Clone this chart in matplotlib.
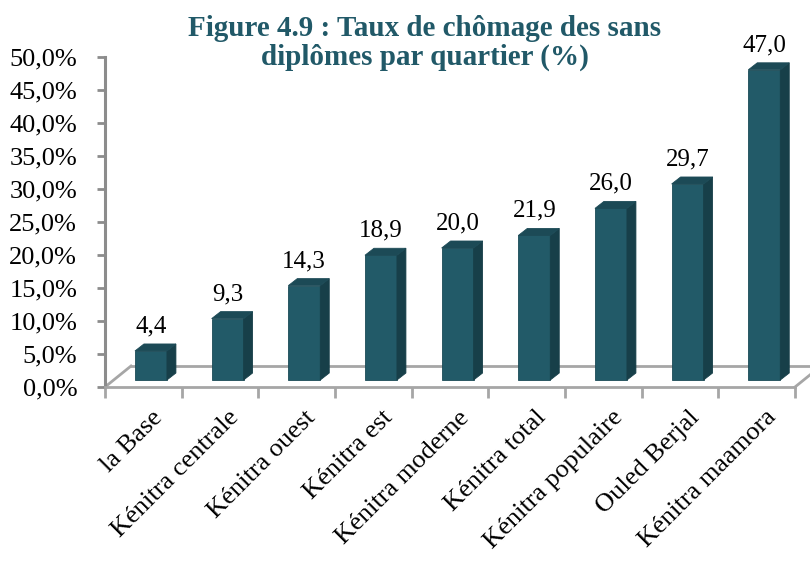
import numpy as np
import matplotlib
matplotlib.use('Agg')
import matplotlib.pyplot as plt
import matplotlib.transforms as mtransforms
from matplotlib.patches import Polygon

# données
quartiers = ['la Base', 'Kénitra centrale', 'Kénitra ouest', 'Kénitra est',
             'Kénitra moderne', 'Kénitra total', 'Kénitra populaire',
             'Ouled Berjal', 'Kénitra maamora']
taux = [4.4, 9.3, 14.3, 18.9, 20.0, 21.9, 26.0, 29.7, 47.0]
yticks = [0, 5, 10, 15, 20, 25, 30, 35, 40, 45, 50]
ytick_labels = ['0,0%', '5,0%', '10,0%', '15,0%', '20,0%', '25,0%',
                '30,0%', '35,0%', '40,0%', '45,0%', '50,0%']
titre = 'Figure 4.9 : Taux de chômage des sans\ndiplômes par quartier (%)'

plt.rcParams['font.family'] = ['Liberation Serif', 'DejaVu Serif']

c_front = '#225a68'
c_side = '#173f49'
c_top = '#1c4a56'
c_axis = '#8c8c8c'
c_floor = '#a6a6a6'

fig = plt.figure(figsize=(8.1, 5.61), dpi=100)
ax = fig.add_axes([105/810, 1 - 387/561, 690/810, 330/561])
ax.set_xlim(0, 9)
ax.set_ylim(0, 50)

# profondeur fictive (effet 3D)
fx, fy = 0.339, 3.18     # sol
bx, by = 0.117, 1.06     # barres
x0 = 0.391
w = 0.417
base = 1.06

# sol
ax.plot([fx, 9 + fx], [fy, fy], color=c_floor, lw=2, clip_on=False, zorder=1)
ax.plot([0, fx], [0, fy], color=c_floor, lw=2, clip_on=False, zorder=1)
ax.plot([9, 9 + fx], [0, fy], color=c_floor, lw=2, clip_on=False, zorder=1)

for i, v in enumerate(taux):
    l = i + x0
    r = l + w
    top = base + v
    ax.add_patch(Polygon([(l, base), (r, base), (r, top), (l, top)],
                         closed=True, fc=c_front, ec='#1a4a56', lw=0.6, zorder=3))
    ax.add_patch(Polygon([(r, base), (r + bx, base + by), (r + bx, top + by), (r, top)],
                         closed=True, fc=c_side, ec=c_side, lw=0.6, zorder=3))
    ax.add_patch(Polygon([(l, top), (l + bx, top + by), (r + bx, top + by), (r, top)],
                         closed=True, fc=c_top, ec=c_top, lw=0.6, zorder=3))
    ax.text(l + w / 2, top + by + 1.0, f'{v:.1f}'.replace('.', ','),
            ha='center', va='bottom', fontsize=18, color='black', zorder=4)

for s in ['top', 'right']:
    ax.spines[s].set_visible(False)
ax.spines['left'].set_color(c_axis)
ax.spines['left'].set_linewidth(2.2)
ax.spines['bottom'].set_color(c_floor)
ax.spines['bottom'].set_linewidth(2)

ax.set_yticks(yticks)
ax.set_yticklabels(ytick_labels, fontsize=19)
ax.tick_params(axis='y', length=6, width=2, color=c_axis, pad=14)

ax.set_xticks(np.arange(10))
ax.set_xticklabels([])
ax.tick_params(axis='x', which='major', length=8, width=2, color=c_floor)
ax.set_xticks(np.arange(9) + 0.5, minor=True)
ax.set_xticklabels(quartiers, minor=True, fontsize=19, rotation=45,
                   ha='right', rotation_mode='anchor')
ax.tick_params(axis='x', which='minor', length=0, pad=14)
decal = mtransforms.ScaledTranslation(8/100, 0, fig.dpi_scale_trans)
for lab in ax.get_xticklabels(minor=True):
    lab.set_transform(lab.get_transform() + decal)

fig.text(425/810, 1 - 43/561, titre, ha='center', va='center', fontsize=21,
         fontweight='bold', color='#215968', linespacing=1.1)

fig.savefig('out.png', dpi=100)
